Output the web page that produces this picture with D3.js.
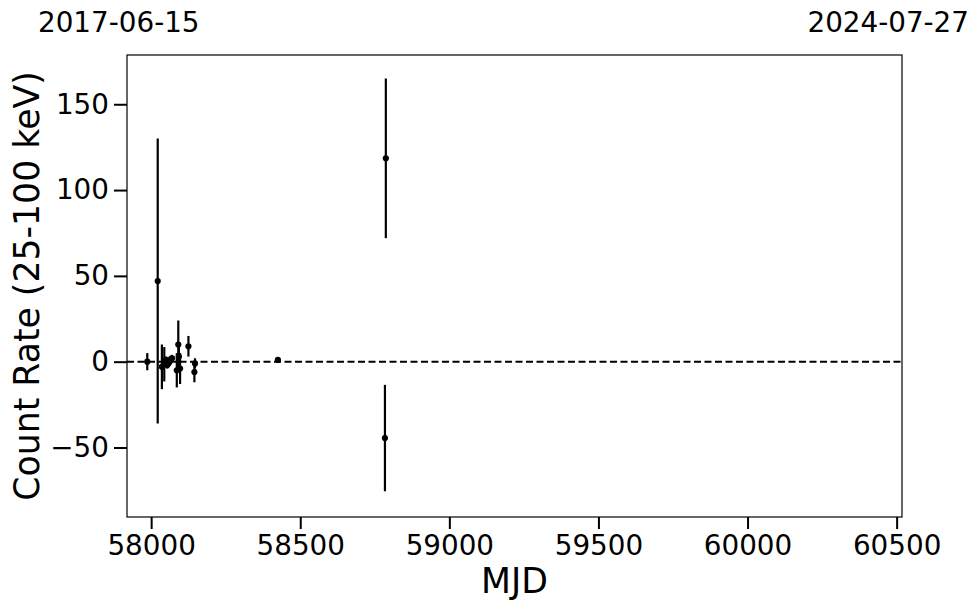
<!DOCTYPE html>
<html>
<head>
<meta charset="utf-8">
<script src="https://cdn.jsdelivr.net/npm/d3@7"></script>
<style>
  html, body { margin: 0; padding: 0; background: #fff; }
  svg { display: block; }
  text { font-family: "DejaVu Sans", sans-serif; fill: #000; }
</style>
</head>
<body>
<svg id="chart" width="980" height="613"></svg>
<script>
// Data (MJD, count rate 25-100 keV, 1-sigma error)
const mjd   = [57987, 58022, 58036, 58044, 58050, 58054, 58058, 58062, 58066, 58070, 58086, 58091, 58093, 58097, 58125, 58145, 58147, 58425, 58784, 58787];
const rate  = [0,     47,    -3,    -1.5,  1,     -2,    -1,    0,     1.5,   2,     -5,    10,    3,     -4,    9,     -6,    -1,    1,     -44.5, 118.5];
const err   = [5,     83,    13,    10,    2,     2,     2,     2,     2,     2,     10,    14,    6,     9,     6,     6,     3,     1.5,   31,    46.5];
const xTicks = [58000, 58500, 59000, 59500, 60000, 60500];
const yTicks = [-50, 0, 50, 100, 150];
const xDomain = [57919, 60518];
const yDomain = [-90.5, 178.7];
const dateLabels = ["2017-06-15", "2024-07-27"];
const xLabel = "MJD";
const yLabel = "Count Rate (25-100 keV)";

const svg = d3.select("#chart");
const L = 127, R = 902, T = 55, B = 517;

const x = d3.scaleLinear().domain(xDomain).range([L, R]);
const y = d3.scaleLinear().domain(yDomain).range([B, T]);

const data = mjd.map((m, i) => ({ m, r: rate[i], e: err[i] }));

// zero line
svg.append("line")
  .attr("x1", L).attr("x2", R)
  .attr("y1", y(0)).attr("y2", y(0))
  .attr("stroke", "#000").attr("stroke-width", 2)
  .attr("stroke-dasharray", "7,3.5");

// error bars
svg.append("g").selectAll("line").data(data).join("line")
  .attr("x1", d => x(d.m)).attr("x2", d => x(d.m))
  .attr("y1", d => y(d.r - d.e)).attr("y2", d => y(d.r + d.e))
  .attr("stroke", "#000").attr("stroke-width", 2.2);

// points
svg.append("g").selectAll("circle").data(data).join("circle")
  .attr("cx", d => x(d.m)).attr("cy", d => y(d.r))
  .attr("r", 3.1).attr("fill", "#000");

// frame
svg.append("rect")
  .attr("x", L).attr("y", T).attr("width", R - L).attr("height", B - T)
  .attr("fill", "none").attr("stroke", "#000").attr("stroke-width", 1.2);

// x axis
const xAxis = d3.axisBottom(x).tickValues(xTicks).tickFormat(d3.format("d"))
  .tickSize(12).tickPadding(6);
const gx = svg.append("g").attr("transform", `translate(0,${B})`).call(xAxis);
gx.select(".domain").remove();
gx.selectAll(".tick line").attr("stroke", "#000").attr("stroke-width", 2);
gx.selectAll(".tick text").attr("font-size", "27.8px").attr("font-family", "DejaVu Sans").attr("fill", "#000");

// y axis
const yAxis = d3.axisLeft(y).tickValues(yTicks)
  .tickFormat(d => d < 0 ? "\u2212" + Math.abs(d) : String(d))
  .tickSize(13).tickPadding(5);
const gy = svg.append("g").attr("transform", `translate(${L},0)`).call(yAxis);
gy.select(".domain").remove();
gy.selectAll(".tick line").attr("stroke", "#000").attr("stroke-width", 2);
gy.selectAll(".tick text").attr("font-size", "27.8px").attr("font-family", "DejaVu Sans").attr("fill", "#000");

// axis labels
svg.append("text").attr("x", (L + R) / 2).attr("y", 593)
  .attr("text-anchor", "middle").attr("font-size", "34.7px").text(xLabel);
svg.append("text")
  .attr("transform", `translate(39,${(T + B) / 2}) rotate(-90)`)
  .attr("text-anchor", "middle").attr("font-size", "34.7px").text(yLabel);

// date labels at top
svg.append("text").attr("x", 38).attr("y", 32)
  .attr("text-anchor", "start").attr("font-size", "27.8px").text(dateLabels[0]);
svg.append("text").attr("x", 969).attr("y", 32)
  .attr("text-anchor", "end").attr("font-size", "27.8px").text(dateLabels[1]);
</script>
</body>
</html>
